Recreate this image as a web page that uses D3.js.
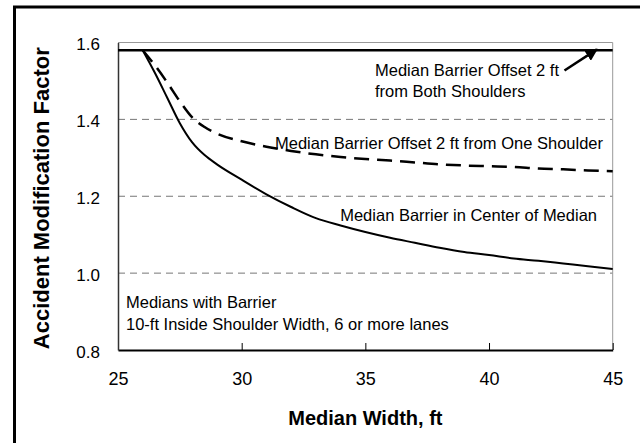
<!DOCTYPE html>
<html>
<head>
<meta charset="utf-8">
<script src="https://cdn.jsdelivr.net/npm/d3@7"></script>
<style>
  body { margin: 0; background: #fff; }
  svg { display: block; font-family: Arial, "Liberation Sans", sans-serif; }
</style>
</head>
<body>
<svg id="chart" width="640" height="443"></svg>
<script>
// median widths (ft)
var widths = [26, 26.5, 27, 27.5, 28, 28.5, 29, 30, 31, 32, 33, 34, 35, 36, 37, 38, 39, 40, 41, 42, 43, 44, 45];
// AMF, barrier in center of median
var centerAmf = [1.58, 1.52, 1.455, 1.39, 1.34, 1.307, 1.283, 1.243, 1.205, 1.172, 1.143, 1.124, 1.107, 1.092, 1.079, 1.066, 1.055, 1.047, 1.038, 1.032, 1.025, 1.018, 1.011];
// AMF, barrier offset 2 ft from one shoulder
var oneShoulderAmf = [1.58, 1.54, 1.495, 1.447, 1.405, 1.38, 1.363, 1.343, 1.329, 1.318, 1.309, 1.302, 1.297, 1.293, 1.288, 1.283, 1.280, 1.278, 1.276, 1.272, 1.270, 1.267, 1.265];
// AMF, barrier offset 2 ft from both shoulders
var bothWidths = [25, 45];
var bothAmf = [1.58, 1.58];

var xTicks = [25, 30, 35, 40, 45];
var yTicks = [0.8, 1.0, 1.2, 1.4, 1.6];
var gridVals = [1.0, 1.2, 1.4];

var svg = d3.select("#chart");

// outer frame
svg.append("rect")
  .attr("x", 14.5).attr("y", 7)
  .attr("width", 700).attr("height", 500)
  .attr("fill", "none").attr("stroke", "#000").attr("stroke-width", 3);

var x = d3.scaleLinear().domain([25, 45]).range([118, 612.7]);
var y = d3.scaleLinear().domain([0.8, 1.6]).range([350, 42.5]);

// gridlines
svg.selectAll(".grid")
  .data(gridVals)
  .enter().append("line")
  .attr("x1", x(25)).attr("x2", x(45))
  .attr("y1", d => y(d)).attr("y2", d => y(d))
  .attr("stroke", "#777").attr("stroke-width", 1)
  .attr("stroke-dasharray", "7,5");

// top + right plot border (grey)
svg.append("path")
  .attr("d", "M" + x(25) + "," + y(1.6) + "H" + x(45) + "V" + y(0.8))
  .attr("fill", "none").attr("stroke", "#999").attr("stroke-width", 1);

// axes
var xAxis = svg.append("g")
  .attr("transform", "translate(0," + y(0.8) + ")")
  .call(d3.axisBottom(x).tickValues(xTicks).tickSizeInner(-7).tickSizeOuter(0).tickPadding(22));
xAxis.select(".domain").attr("stroke", "#000").attr("stroke-width", 2);
xAxis.selectAll(".tick line").attr("stroke", "#000");
xAxis.selectAll("text").attr("font-size", 18).attr("fill", "#000")
  .attr("font-family", "Arial, 'Liberation Sans', sans-serif");

var yAxis = svg.append("g")
  .attr("transform", "translate(" + x(25) + ",0)")
  .call(d3.axisLeft(y).tickValues(yTicks).tickFormat(d3.format(".1f")).tickSize(0).tickPadding(18));
yAxis.select(".domain").attr("stroke", "#333").attr("stroke-width", 1.5);
yAxis.selectAll("text").attr("font-size", 17).attr("fill", "#000")
  .attr("dy", "0.42em")
  .attr("font-family", "Arial, 'Liberation Sans', sans-serif");

// series
var line = d3.line()
  .x(d => x(d[0]))
  .y(d => y(d[1]))
  .curve(d3.curveMonotoneX);

svg.append("path")
  .datum(d3.zip(bothWidths, bothAmf))
  .attr("d", line)
  .attr("fill", "none").attr("stroke", "#000").attr("stroke-width", 2.5);

svg.append("path")
  .datum(d3.zip(widths, oneShoulderAmf))
  .attr("d", line)
  .attr("fill", "none").attr("stroke", "#000").attr("stroke-width", 2.5)
  .attr("stroke-dasharray", "15,8");

svg.append("path")
  .datum(d3.zip(widths, centerAmf))
  .attr("d", line)
  .attr("fill", "none").attr("stroke", "#000").attr("stroke-width", 2);

// arrow for both-shoulders label
svg.append("defs").append("marker")
  .attr("id", "arrow")
  .attr("viewBox", "0 0 10 10")
  .attr("refX", 9).attr("refY", 5)
  .attr("markerWidth", 5).attr("markerHeight", 5)
  .attr("orient", "auto")
  .append("path").attr("d", "M0,0L10,5L0,10z").attr("fill", "#000");

svg.append("line")
  .attr("x1", x(43.05)).attr("y1", y(1.527))
  .attr("x2", x(44.36)).attr("y2", y(1.582))
  .attr("stroke", "#000").attr("stroke-width", 2.5)
  .attr("marker-end", "url(#arrow)");

// annotations
function label(tx, ty, str, anchor) {
  svg.append("text")
    .attr("x", tx).attr("y", ty)
    .attr("font-size", 16.5)
    .attr("text-anchor", anchor || "start")
    .attr("fill", "#000")
    .text(str);
}
label(375, 76, "Median Barrier Offset 2 ft");
label(375, 97, "from Both Shoulders");
label(603, 149, "Median Barrier Offset 2 ft from One Shoulder", "end");
label(597, 221, "Median Barrier in Center of Median", "end");
label(126, 308, "Medians with Barrier");
label(126, 330, "10-ft Inside Shoulder Width, 6 or more lanes");

// axis titles
svg.append("text")
  .attr("x", (x(25) + x(45)) / 2).attr("y", 425)
  .attr("text-anchor", "middle")
  .attr("font-size", 20).attr("font-weight", "bold")
  .text("Median Width, ft");

svg.append("text")
  .attr("transform", "translate(49," + ((y(0.8) + y(1.6)) / 2 + 2) + ") rotate(-90)")
  .attr("text-anchor", "middle")
  .attr("font-size", 22).attr("font-weight", "bold")
  .text("Accident Modification Factor");
</script>
</body>
</html>
